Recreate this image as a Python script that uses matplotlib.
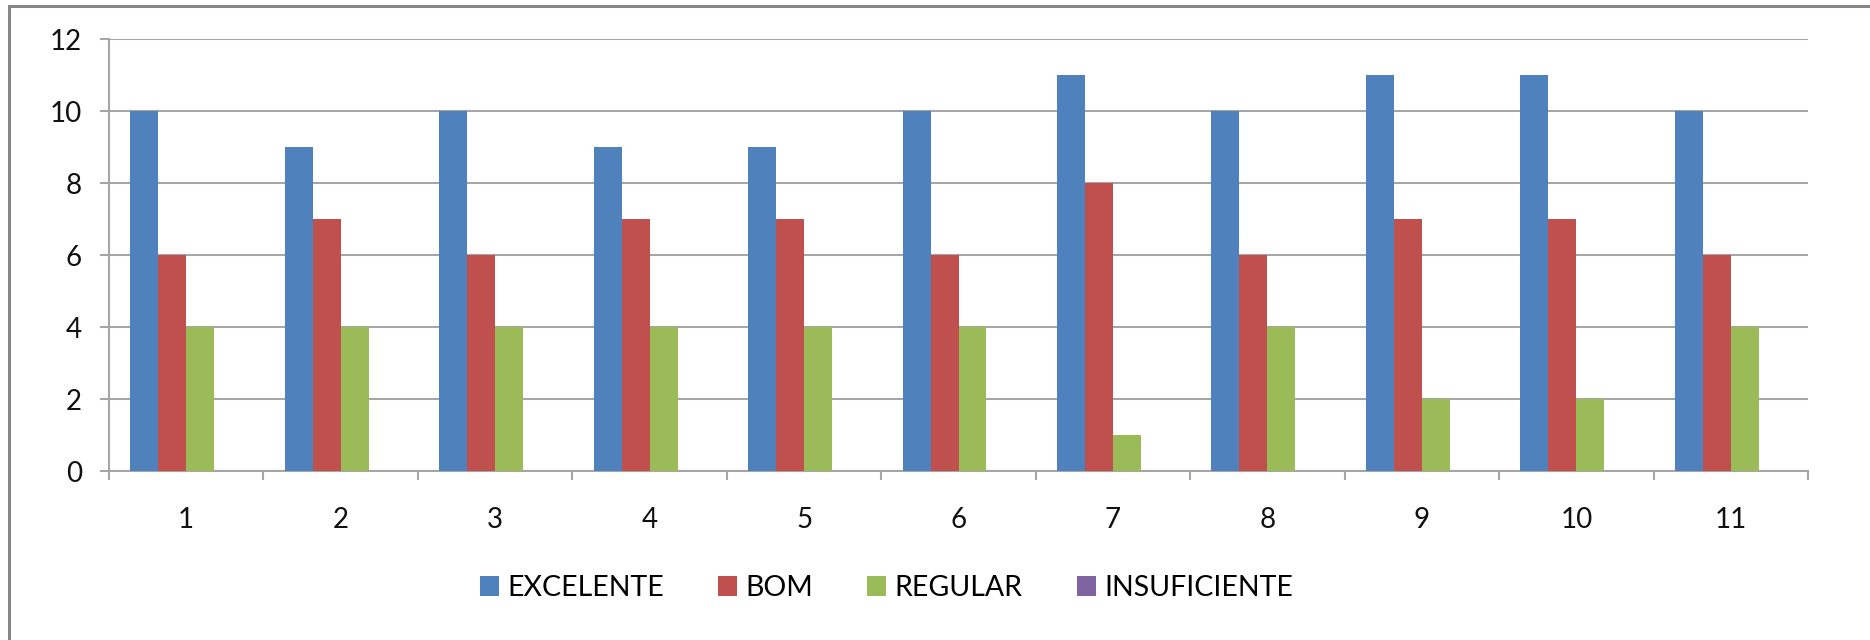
import matplotlib
matplotlib.use("Agg")
import matplotlib.pyplot as plt
from matplotlib.patches import Rectangle
import numpy as np

# notas por turma
turmas = ["1", "2", "3", "4", "5", "6", "7", "8", "9", "10", "11"]
excelente = [10, 9, 10, 9, 9, 10, 11, 10, 11, 11, 10]
bom = [6, 7, 6, 7, 7, 6, 8, 6, 7, 7, 6]
regular = [4, 4, 4, 4, 4, 4, 1, 4, 2, 2, 4]
insuficiente = [0, 0, 0, 0, 0, 0, 0, 0, 0, 0, 0]

series = [excelente, bom, regular, insuficiente]
legenda = ["EXCELENTE", "BOM", "REGULAR", "INSUFICIENTE"]
cores = ["#4F81BD", "#C0504D", "#9BBB59", "#8064A2"]

W, H = 1870, 640
fig = plt.figure(figsize=(W / 100, H / 100), dpi=100)
ax = fig.add_axes([109 / W, 1 - 471 / H, (1808 - 109) / W, (471 - 39) / H])

cinza = "#A6A6A6"
x = np.arange(len(turmas))
largura = 0.181
for i in range(len(series)):
    ax.bar(x + (i - 1.5) * largura, series[i], largura, color=cores[i],
           label=legenda[i], zorder=3)

ax.set_xlim(-0.5, len(turmas) - 0.5)
ax.set_ylim(0, 12)
ax.set_yticks(range(0, 13, 2))
ax.yaxis.grid(True, color=cinza, linewidth=1.5, zorder=0)

# marcas nas divisas das categorias, rotulos no centro
ax.set_xticks(np.arange(-0.5, len(turmas), 1.0))
ax.set_xticklabels([])
ax.set_xticks(x, minor=True)
ax.set_xticklabels(turmas, minor=True)
ax.tick_params(axis="x", which="major", length=6.5, width=1.5, color=cinza)
ax.tick_params(axis="x", which="minor", length=0, pad=26)
ax.tick_params(axis="y", length=6.5, width=1.5, color=cinza, pad=13)

for lab in ax.get_xticklabels(minor=True) + ax.get_yticklabels():
    lab.set_fontfamily(["Lato", "DejaVu Sans"])
    lab.set_fontsize(20)
    lab.set_color("#111111")

for lado in ["top", "right"]:
    ax.spines[lado].set_visible(False)
for lado in ["left", "bottom"]:
    ax.spines[lado].set_color(cinza)
    ax.spines[lado].set_linewidth(1.5)

fig.legend(loc="center left", bbox_to_anchor=(480 / W, 1 - 588 / H), ncol=4,
           frameon=False, borderpad=0, borderaxespad=0,
           prop={"family": ["Lato", "DejaVu Sans"], "size": 20.5},
           handlelength=0.66, handleheight=0.7, handletextpad=0.3,
           columnspacing=1.9)

# moldura da area do grafico
fig.patches.append(Rectangle((9 / W, -0.05), 1.1, 1 - 6 / H + 0.05,
                             transform=fig.transFigure, fill=False,
                             edgecolor="#868686", linewidth=2.2))

fig.savefig("out.png", dpi=100)
